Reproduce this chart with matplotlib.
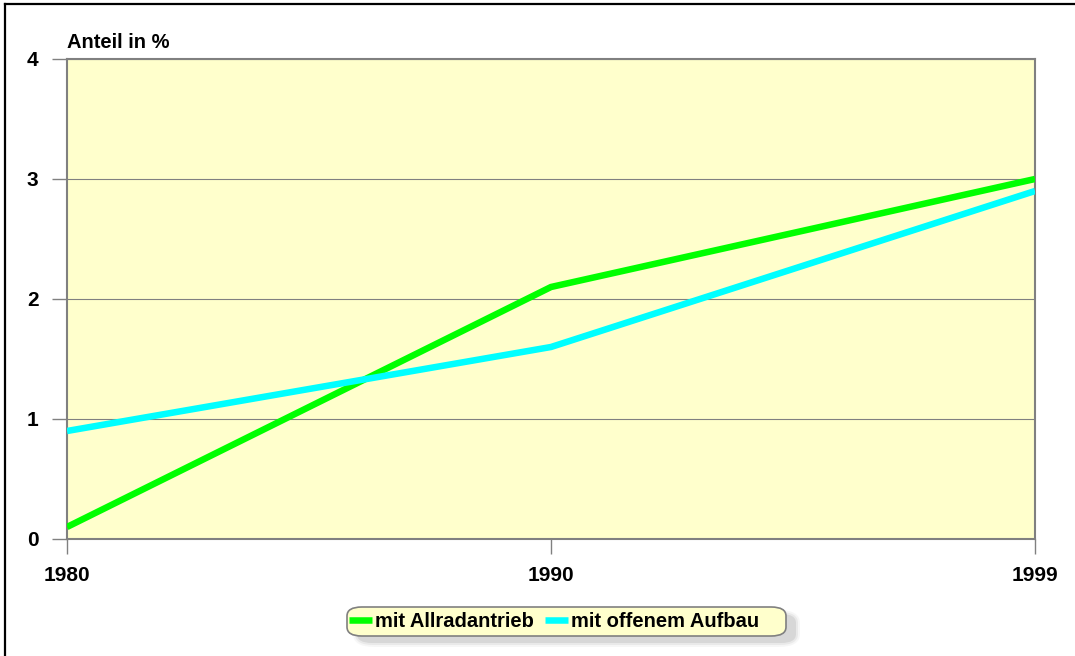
import matplotlib
matplotlib.use("Agg")
import matplotlib.pyplot as plt
from matplotlib.lines import Line2D
from matplotlib.patches import FancyBboxPatch

# Data
years = ["1980", "1990", "1999"]
allrad = [0.1, 2.1, 3.0]
offen = [0.9, 1.6, 2.9]
y_ticks = [0, 1, 2, 3, 4]
series_names = ["mit Allradantrieb", "mit offenem Aufbau"]

plt.rcParams["font.family"] = ["Liberation Sans", "DejaVu Sans"]
plt.rcParams["font.weight"] = "bold"
FS = 14.5
GRAY = "#808080"

W, H = 1075, 656
fig = plt.figure(figsize=(W / 100, H / 100), dpi=100)
fig.patch.set_facecolor("white")

left, right, top, bottom = 67, 1035, 59, 539
ax = fig.add_axes([left / W, 1 - bottom / H, (right - left) / W, (bottom - top) / H])
ax.set_facecolor("#FFFFCC")
ax.set_zorder(2)

x = list(range(len(years)))
l1, = ax.plot(x, allrad, color="#00FF00", lw=4.7, solid_capstyle="butt",
              solid_joinstyle="miter", label=series_names[0], zorder=3)
l2, = ax.plot(x, offen, color="#00FFFF", lw=4.7, solid_capstyle="butt",
              solid_joinstyle="miter", label=series_names[1], zorder=3)

ax.set_xlim(0, len(years) - 1)
ax.set_ylim(0, 4)
ax.set_xticks(x)
ax.set_xticklabels(years)
ax.set_yticks(y_ticks)
ax.set_yticklabels([str(v) for v in y_ticks])

ax.grid(axis="y", color=GRAY, lw=0.8)
ax.set_axisbelow(True)
for s in ax.spines.values():
    s.set_color(GRAY)
    s.set_linewidth(1.5)

ax.tick_params(axis="both", direction="out", color=GRAY, width=1.0,
               length=10.5, labelsize=FS + 0.5)
ax.tick_params(axis="y", pad=10)
ax.tick_params(axis="x", pad=9)
for lab in ax.get_xticklabels() + ax.get_yticklabels():
    lab.set_fontweight("bold")

fig.text(left / W, 1 - 48 / H, "Anteil in %", fontsize=FS, fontweight="bold",
         ha="left", va="baseline")

# Legend box with soft drop shadow, entries laid over it
bx0, bx1, by0, by1 = 347, 786, 607, 636
for grow, a in [(4, 0.12), (2, 0.22), (0, 0.40)]:
    sh = FancyBboxPatch(((bx0 + 10 - grow) / W, 1 - (by1 + 7 + grow) / H),
                        (bx1 - bx0 + 2 * grow) / W, (by1 - by0 + 2 * grow) / H,
                        boxstyle=f"round,pad=0,rounding_size={(9 + grow) / H}",
                        transform=fig.transFigure, facecolor="#bdbdbd",
                        edgecolor="none", alpha=a, zorder=0.5)
    fig.add_artist(sh)
box = FancyBboxPatch((bx0 / W, 1 - by1 / H), (bx1 - bx0) / W, (by1 - by0) / H,
                     boxstyle=f"round,pad=0,rounding_size={9 / H}",
                     transform=fig.transFigure, facecolor="#FFFFCC",
                     edgecolor=GRAY, lw=1.2, zorder=1)
fig.add_artist(box)

leg = fig.legend(handles=[l1, l2], labels=series_names, loc="center left",
                 bbox_to_anchor=(349 / W, 1 - 621.5 / H), ncol=2, frameon=False,
                 fontsize=FS, handlelength=1.15, handletextpad=0.15,
                 columnspacing=0.55, borderpad=0, borderaxespad=0)
leg.set_zorder(5)
for t in leg.get_texts():
    t.set_fontweight("bold")

# Border lines along the left and top edge of the figure
fig.add_artist(Line2D([5.5 / W, 5.5 / W], [0, 1 - 4 / H], color="black", lw=1.6,
                      transform=fig.transFigure))
fig.add_artist(Line2D([5.5 / W, 1], [1 - 4 / H, 1 - 4 / H], color="black", lw=1.6,
                      transform=fig.transFigure))

fig.savefig("out.png", dpi=100)
